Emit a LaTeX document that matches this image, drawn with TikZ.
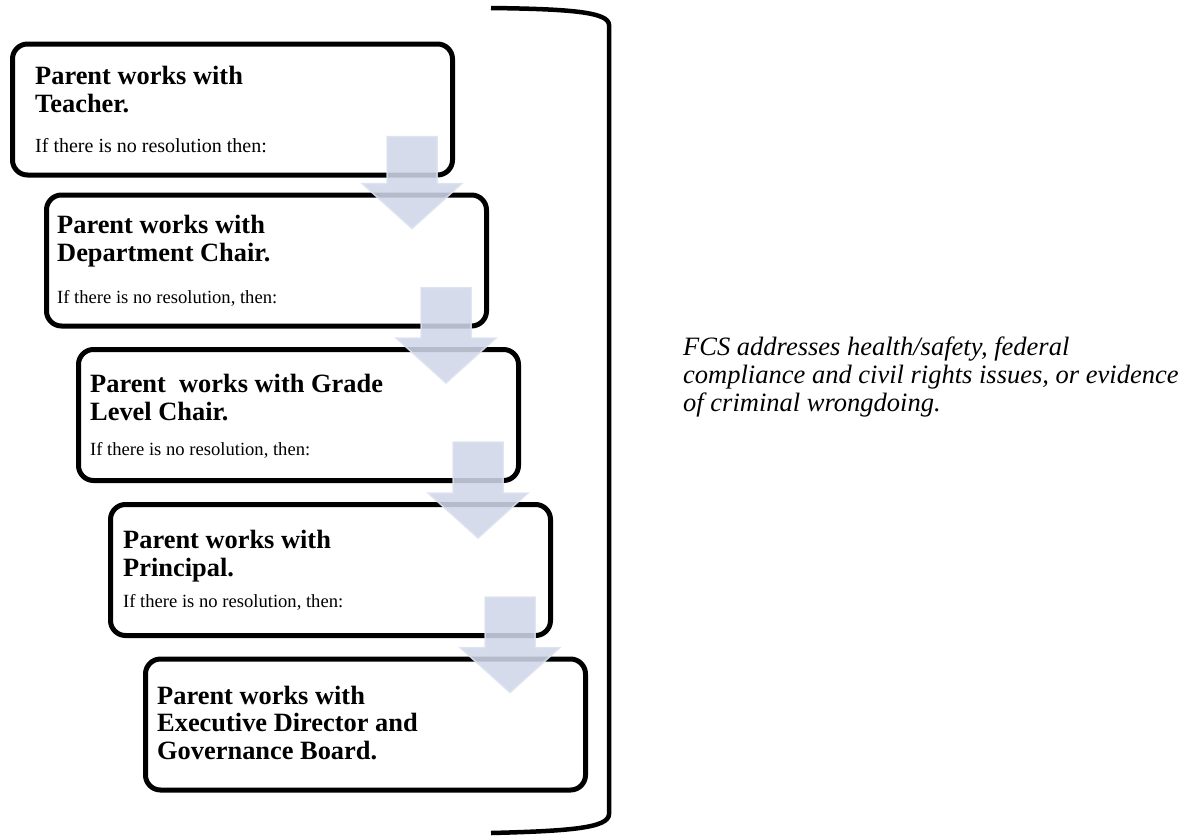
\documentclass[tikz,border=0pt]{standalone}
\usepackage{fontspec}
\setmainfont{Liberation Serif}
\usetikzlibrary{calc}

\begin{document}
\begin{tikzpicture}[x=1pt, y=-1pt,
			stepbox/.style={
				draw,
				line width = 5pt,
				rounded corners = 15pt,
				minimum width = 440pt,
				minimum height = 131pt,
				inner sep = 0pt},
			title/.style={
				anchor = base west,
				align = left,
				inner sep = 0pt,
				font = \fontsize{26.4}{27.5}\selectfont\bfseries},
			note/.style={
				anchor = base west,
				inner sep = 0pt,
				font = \fontsize{18.6}{22}\selectfont},
			blockarrow/.style={
				fill = {rgb,255:red,207;green,214;blue,232},
				draw = {rgb,255:red,220;green,226;blue,240},
				line width = 1.5pt,
				opacity = .88}]
			\useasboundingbox (0, 0) rectangle (1190, 835);
			\node[stepbox] (teacher) at (232.5, 109.5) {};
			\node[stepbox] (chair) at (266.5, 260.5) {};
			\node[stepbox] (grade) at (298.5, 415) {};
			\node[stepbox] (principal) at (330.5, 570) {};
			\node[stepbox] (board) at (365.5, 724.5) {};
			% titles sit on the baseline of their last line
			\node[title] (teacher-t) at (35, 112) {Parent works with\\Teacher.};
			\node[note, font = \fontsize{20}{24}\selectfont] (teacher-n) at (35, 152) {If there is no resolution then:};
			\node[title] (chair-t) at (57, 261) {Parent works with\\Department Chair.};
			\node[note] (chair-n) at (57, 303) {If there is no resolution, then:};
			\node[title] (grade-t) at (90, 420) {Parent~ works with Grade\\Level Chair.};
			\node[note] (grade-n) at (90, 455) {If there is no resolution, then:};
			\node[title] (principal-t) at (123, 576) {Parent works with\\Principal.};
			\node[note] (principal-n) at (123, 607) {If there is no resolution, then:};
			\node[title] (board-t) at (157, 759) {Parent works with\\Executive Director and\\Governance Board.};
			% arrows between the steps
			\foreach \from/\to in {teacher/chair, chair/grade, grade/principal, principal/board} {
				\coordinate (\from-a) at ($(\from.south east)+(-43, -41)$);
				\coordinate (\from-tip) at ($(\from-a |- \to.north)+(0, 36)$);
				\filldraw[blockarrow] ($(\from-a)+(-25, 0)$) -- ($(\from-a)+(25, 0)$)
					-- ($(\from-tip)+(25, -45)$) -- ($(\from-tip)+(50, -45)$) -- (\from-tip)
					-- ($(\from-tip)+(-50, -45)$) -- ($(\from-tip)+(-25, -45)$) -- cycle;
			}
			% bracket
			\draw[line width = 4.5pt] (491, 8) .. controls (570, 9) and (609, 12) .. (609, 25)
				-- (609, 814) .. controls (609, 828) and (570, 831) .. (491, 833);
			\node[anchor = base west, align = left, inner sep = 0pt,
				font = \fontsize{26.5}{28}\selectfont\itshape] (fcs) at (683, 411)
				{FCS addresses health/safety, federal\\compliance and civil rights issues, or evidence\\of criminal wrongdoing.};
			\end{tikzpicture}
\end{document}
